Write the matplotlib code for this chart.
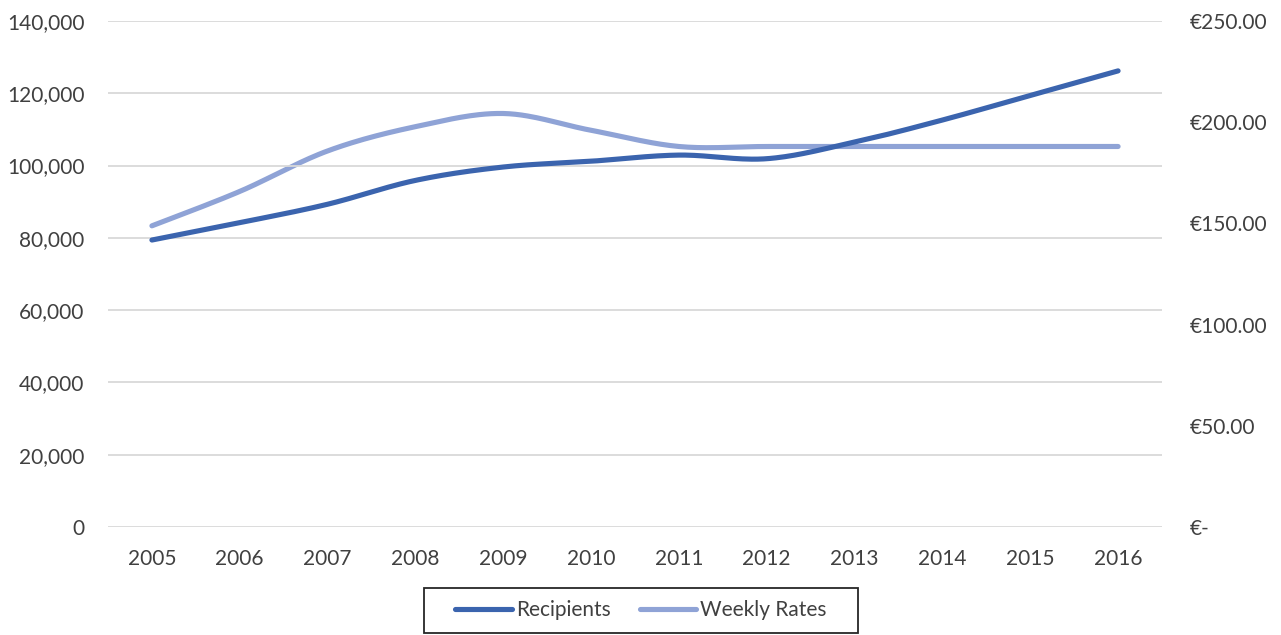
import numpy as np
import matplotlib
matplotlib.use("Agg")
import matplotlib.pyplot as plt
from matplotlib.ticker import FuncFormatter, FixedLocator
from matplotlib.patches import Rectangle

years = ["2005", "2006", "2007", "2008", "2009", "2010", "2011", "2012", "2013", "2014", "2015", "2016"]
recipients = [79400, 84200, 89300, 95900, 99600, 101200, 102900, 101900, 106500, 112600, 119400, 126200]
weekly_rates = [148.80, 165.80, 185.80, 197.80, 204.30, 196.00, 188.00, 188.00, 188.00, 188.00, 188.00, 188.00]

DARK = "#3B64AE"
LIGHT = "#8FA3D6"
GRID = "#D9D9D9"
TEXT = "#404040"
FONT = "Lato"
FS = 15

plt.rcParams["font.family"] = [FONT, "DejaVu Sans"]


def smooth(xs, ys, n=30):
    """Catmull-Rom style smoothing (as Excel's smoothed line)."""
    xs = np.asarray(xs, float)
    ys = np.asarray(ys, float)
    px = np.concatenate([[xs[0]], xs, [xs[-1]]])
    py = np.concatenate([[ys[0]], ys, [ys[-1]]])
    outx, outy = [], []
    for i in range(1, len(px) - 2):
        p0 = np.array([px[i - 1], py[i - 1]])
        p1 = np.array([px[i], py[i]])
        p2 = np.array([px[i + 1], py[i + 1]])
        p3 = np.array([px[i + 2], py[i + 2]])
        c1 = p1 + (p2 - p0) / 6.0
        c2 = p2 - (p3 - p1) / 6.0
        t = np.linspace(0, 1, n)[:, None]
        pts = ((1 - t) ** 3) * p1 + 3 * ((1 - t) ** 2) * t * c1 + 3 * (1 - t) * t ** 2 * c2 + t ** 3 * p2
        if i > 1:
            pts = pts[1:]
        outx.extend(pts[:, 0])
        outy.extend(pts[:, 1])
    return np.array(outx), np.array(outy)


W, H = 1281, 635
fig = plt.figure(figsize=(W / 100, H / 100), dpi=100)
ax = fig.add_axes([108 / W, 1 - 527 / H, (1162 - 108) / W, (527 - 21) / H])
ax2 = ax.twinx()

x = np.arange(len(years))
sx, sy = smooth(x, recipients)
ax.plot(sx, sy, color=DARK, lw=3.7, solid_capstyle="round", zorder=3, label="Recipients")
sx2, sy2 = smooth(x, weekly_rates)
ax2.plot(sx2, sy2, color=LIGHT, lw=3.7, solid_capstyle="round", zorder=3, label="Weekly Rates")

ax.set_xlim(-0.5, len(years) - 0.5)
ax.set_ylim(0, 140000)
ax2.set_ylim(0, 250)
ax.set_xticks(x)
ax.set_xticklabels(years)
ax.yaxis.set_major_locator(FixedLocator(np.arange(0, 140001, 20000)))
ax.yaxis.set_major_formatter(FuncFormatter(lambda v, p: f"{int(v):,}"))
ax2.yaxis.set_major_locator(FixedLocator(np.arange(0, 251, 50)))
ax2.yaxis.set_major_formatter(FuncFormatter(lambda v, p: "€-" if v == 0 else f"€{v:.2f}"))

ax.grid(axis="y", color=GRID, lw=1.3)
ax.set_axisbelow(True)
for a in (ax, ax2):
    for s in a.spines.values():
        s.set_visible(False)
ax.tick_params(axis="x", length=0, pad=16, labelsize=FS, labelcolor=TEXT)
ax.tick_params(axis="y", length=0, pad=17, labelsize=FS, labelcolor=TEXT)
ax2.tick_params(axis="y", length=0, pad=20, labelsize=FS, labelcolor=TEXT)
ax.set_zorder(ax2.get_zorder() + 1)
ax.patch.set_visible(False)

h1, l1 = ax.get_legend_handles_labels()
h2, l2 = ax2.get_legend_handles_labels()
leg = fig.legend(h1 + h2, l1 + l2, loc="center", bbox_to_anchor=(641 / W, 1 - 610.5 / H),
                 ncol=2, frameon=False, fontsize=FS, handlelength=2.7,
                 handletextpad=0.2, columnspacing=1.4, borderpad=0.65, borderaxespad=0)
for t in leg.get_texts():
    t.set_color(TEXT)

# legend border box
fig.patches.append(Rectangle((424 / W, 1 - 633 / H), (858 - 424) / W, (633 - 588) / H,
                             transform=fig.transFigure, fill=False, edgecolor="#262626",
                             linewidth=1.3, figure=fig))

fig.savefig("out.png", dpi=100)
